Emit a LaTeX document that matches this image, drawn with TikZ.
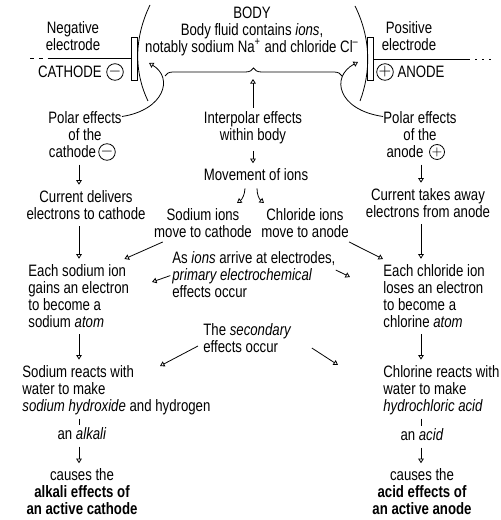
\documentclass[tikz,border=0pt]{standalone}
\usepackage{amsmath}
\usepackage{fontspec}
\setmainfont{Liberation Sans}[FakeStretch=0.8]
\usetikzlibrary{arrows.meta,decorations.pathreplacing}

\begin{document}
\begin{tikzpicture}[x=0.02cm, y=-0.02cm, line width=0.45pt,
        font=\fontsize{9.4pt}{9.7pt}\selectfont,
        txt/.style={inner sep=0pt, align=center},
        ltxt/.style={inner sep=0pt, align=left, anchor=west},
        arr/.style={-{Triangle[open, length=2.6pt, width=3.2pt]}},
        varr/.style={arr, shorten <=3.5pt, shorten >=3pt},
        sign/.style={draw, circle, inner sep=0pt, minimum size=0.3cm},
        plate/.style={draw, inner sep=0pt, minimum width=0.12cm, minimum height=0.86cm}]

        \useasboundingbox (0,0) rectangle (500,520);

        % Outline of the body
        \draw (150,5) .. controls (134,38) and (134,72) .. (148,101);
        \draw (355,6) .. controls (371,38) and (371,72) .. (360,101);

        % Electrodes and wires
        \node[plate] (plateC) at (134.5,58.5) {};
        \node[plate] (plateA) at (370,59) {};
        \coordinate (wireC) at (50,58.5);
        \coordinate (wireCend) at (30,58.5);
        \coordinate (wireA) at (468,59);
        \coordinate (wireAend) at (492,59);
        \draw (wireC) -- (plateC.west);
        \draw[dash pattern=on 2.5pt off 2.5pt] (wireCend) -- (wireC);
        \draw (plateA.east) -- (wireA);
        \draw[dash pattern=on 1pt off 3pt] (wireA) -- (wireAend);

        % Electrode labels
        \node[txt] (negE) at (73,36) {Negative\\electrode};
        \node[txt] (cathL) at (70,72) {CATHODE};
        \node[sign] (cathS) at (115,72) {$-$};
        \node[txt] (posE) at (409,36) {Positive\\electrode};
        \node[sign] (anodS) at (385,72) {$+$};
        \node[txt] (anodL) at (421,72) {ANODE};

        % Body and interpolar effects
        \node[txt] (body) at (252,31) {BODY\\Body fluid contains \textit{ions},\\notably sodium Na\textsuperscript{+} and chloride Cl\textsuperscript{--}};
        \coordinate (braceL) at (165,76);
        \coordinate (braceR) at (342,76);
        \draw[decorate, decoration={brace, amplitude=0.16cm}] (braceL) -- (braceR);
        \coordinate (btip) at (253,79);
        \node[txt] (interp) at (253,128) {Interpolar effects\\within body};
        \draw[arr, shorten <=2pt] (interp) -- (btip);

        % Polar effects
        \node[txt] (polC) at (85,135) {Polar effects\\of the\\cathode\rule{5mm}{0pt}};
        \node[sign] (polCS) at (107,152) {$-$};
        \coordinate (cathT) at (149,63);
        \draw[arr] ([yshift=-0.1cm]polC.north east) .. controls (164,110) and (174,78) .. (cathT);
        \node[txt] (polA) at (420,135) {Polar effects\\of the\\anode\rule{6mm}{0pt}};
        \node[sign, font=\scriptsize] (polAS) at (437,152) {$+$};
        \coordinate (anodT) at (358,62);
        \draw[arr] ([yshift=-0.1cm]polA.north west) .. controls (338,110) and (330,77) .. (anodT);

        % Column lines
        \coordinate (colC) at (79,0);
        \coordinate (colA) at (421,0);

        % Movement of ions
        \node[txt] (move) at (256,175) {Movement of ions};
        \draw[varr] (interp.south) -- (interp.south |- move.north);
        \node[txt] (naMove) at (203,223) {Sodium ions\\move to cathode};
        \node[txt] (clMove) at (305,223) {Chloride ions\\move to anode};
        \draw[arr] ([xshift=-0.22cm, yshift=-0.14cm]move.south) to[bend left=25] ([xshift=0.68cm, yshift=0.1cm]naMove.north);
        \draw[arr] ([xshift=0.02cm, yshift=-0.14cm]move.south) to[bend right=25] ([xshift=-0.82cm, yshift=0.1cm]clMove.north);

        % Cathode side
        \node[txt] (curC) at (86,205) {Current delivers\\electrons to cathode};
        \node[ltxt] (eachNa) at (28,296) {Each sodium ion\\gains an electron\\to become a\\sodium \textit{atom}};
        \node[ltxt] (reactNa) at (22,390) {Sodium reacts with\\water to make\\\textit{sodium hydroxide} and hydrogen};
        \node[txt] (alk) at (82,434) {an \textit{alkali}};
        \node[txt] (causeNa) at (82,492) {causes the\\\textbf{alkali effects of}\\\textbf{an active cathode}};
        \draw[varr] (polC.south -| colC) -- (curC.north -| colC);
        \draw[varr] (curC.south -| colC) -- (eachNa.north -| colC);
        \draw[varr] (eachNa.south -| colC) -- (reactNa.north -| colC);
        \draw[shorten <=2pt, shorten >=1.5pt] (reactNa.south -| colC) -- (alk.north -| colC);
        \draw[varr] (alk.south -| colC) -- (causeNa.north -| colC);

        % Anode side
        \node[txt] (curA) at (428,203) {Current takes away\\electrons from anode};
        \node[ltxt] (eachCl) at (383,296) {Each chloride ion\\loses an electron\\to become a\\chlorine \textit{atom}};
        \node[ltxt] (reactCl) at (383,390) {Chlorine reacts with\\water to make\\\textit{hydrochloric acid}};
        \node[txt] (acid) at (422,435) {an \textit{acid}};
        \node[txt] (causeCl) at (422,492) {causes the\\\textbf{acid effects of}\\\textbf{an active anode}};
        \draw[varr] (polA.south -| colA) -- (curA.north -| colA);
        \draw[varr] (curA.south -| colA) -- (eachCl.north -| colA);
        \draw[varr] (eachCl.south -| colA) -- (reactCl.north -| colA);
        \draw[shorten <=2pt, shorten >=1.5pt] (reactCl.south -| colA) -- (acid.north -| colA);
        \draw[varr] (acid.south -| colA) -- (causeCl.north -| colA);

        % Ions reach the electrodes
        \draw[arr] ([xshift=0.18cm, yshift=-0.08cm]naMove.south west) -- ([xshift=-0.1cm, yshift=0.1cm]eachNa.north east);
        \draw[arr] ([yshift=-0.08cm]clMove.south east) -- ([yshift=0.1cm]eachCl.north west);

        % Primary and secondary effects
        \node[ltxt] (prim) at (172,275) {As \textit{ions} arrive at electrodes,\\\textit{primary electrochemical}\\effects occur};
        \coordinate (primL) at (152,282);
        \coordinate (primR) at (350,277);
        \draw[arr, shorten <=1pt] (prim.west) -- (primL);
        \draw[arr] ([yshift=0.1cm]prim.east) -- (primR);
        \node[ltxt] (sec) at (203,338) {The \textit{secondary}\\effects occur};
        \coordinate (secL) at (160,366);
        \coordinate (secR) at (338,365);
        \draw[arr] ([xshift=-0.1cm, yshift=-0.16cm]sec.west) -- (secL);
        \draw[arr] ([xshift=0.4cm, yshift=-0.2cm]sec.east) -- (secR);

\end{tikzpicture}
\end{document}
